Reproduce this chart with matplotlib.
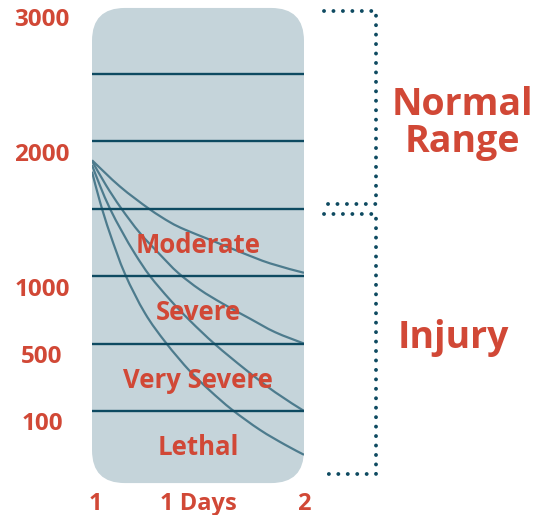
import matplotlib
matplotlib.use("Agg")
import matplotlib.pyplot as plt
from matplotlib.patches import FancyBboxPatch, PathPatch
from matplotlib.path import Path
from matplotlib.transforms import ScaledTranslation, blended_transform_factory

# y runs on a band scale: 0 = bottom of the panel, 7 = top
level_ticks = [7, 5, 3, 2, 1]
level_labels = ["3000", "2000", "1000", "500", "100"]
grid_levels = [1, 2, 3, 4, 5, 6]

day_ticks = [1, 1.5, 2]
day_labels = ["1", "1 Days", "2"]

bands = ["Moderate", "Severe", "Very Severe", "Lethal"]
band_levels = [3.5, 2.5, 1.5, 0.5]

# decay curves (day, level)
curve_moderate_x = [1.0, 1.132, 1.269, 1.368, 1.439, 1.557, 1.698, 1.840, 2.0]
curve_moderate_y = [4.72, 4.33, 4.00, 3.80, 3.69, 3.54, 3.36, 3.19, 3.05]

curve_severe_x = [1.0, 1.066, 1.137, 1.226, 1.321, 1.406, 1.509, 1.618, 1.745, 1.863, 2.0]
curve_severe_y = [4.71, 4.35, 4.01, 3.64, 3.32, 3.05, 2.80, 2.59, 2.37, 2.17, 2.0]

curve_vsevere_x = [1.0, 1.038, 1.085, 1.142, 1.203, 1.274, 1.368, 1.462, 1.580, 1.722, 1.863, 2.0]
curve_vsevere_y = [4.65, 4.34, 4.00, 3.66, 3.33, 3.00, 2.65, 2.34, 1.99, 1.62, 1.28, 1.00]

curve_lethal_x = [1.0, 1.038, 1.085, 1.156, 1.25, 1.349, 1.462, 1.557, 1.660, 1.792, 1.910, 2.0]
curve_lethal_y = [4.55, 4.10, 3.63, 3.03, 2.45, 2.01, 1.59, 1.30, 1.02, 0.72, 0.50, 0.35]

normal_range = (4, 7)
injury_range = (0, 4)

RED = "#d14836"
DARK = "#0e4a61"
CURVE = "#4d7b8d"
PANEL = "#c5d4da"

plt.rcParams["font.family"] = ["Open Sans", "DejaVu Sans"]
plt.rcParams["font.weight"] = "bold"


def smooth_path(xs, ys):
    # catmull-rom through the read points, as cubic bezier segments
    pts = list(zip(xs, ys))
    verts = [pts[0]]
    codes = [Path.MOVETO]
    n = len(pts)
    for i in range(n - 1):
        p0 = pts[max(i - 1, 0)]
        p1 = pts[i]
        p2 = pts[i + 1]
        p3 = pts[min(i + 2, n - 1)]
        c1 = (p1[0] + (p2[0] - p0[0]) / 6, p1[1] + (p2[1] - p0[1]) / 6)
        c2 = (p2[0] - (p3[0] - p1[0]) / 6, p2[1] - (p3[1] - p1[1]) / 6)
        verts += [c1, c2, p2]
        codes += [Path.CURVE4] * 3
    return Path(verts, codes)


def main():
    fig = plt.figure(figsize=(5.33, 5.15), dpi=100)
    ax = fig.add_axes([92 / 533, (515 - 485.1) / 515, 212 / 533, 478.5 / 515])
    ax.set_xlim(1, 2)
    ax.set_ylim(-0.1, 7.0)

    # rounded panel (aspect fix so the corners stay round)
    panel = FancyBboxPatch((1, -0.07), 1, 7.05,
                           boxstyle="round,pad=0,rounding_size=0.155",
                           mutation_aspect=212 / 67.4,
                           fc=PANEL, ec="none", zorder=1, clip_on=False)
    ax.add_patch(panel)

    for lv in grid_levels:
        ax.plot([1, 2], [lv, lv], color=DARK, lw=1.7, zorder=3,
                solid_capstyle="butt")

    curves = [(curve_moderate_x, curve_moderate_y),
              (curve_severe_x, curve_severe_y),
              (curve_vsevere_x, curve_vsevere_y),
              (curve_lethal_x, curve_lethal_y)]
    for cx, cy in curves:
        ax.add_patch(PathPatch(smooth_path(cx, cy), fc="none", ec=CURVE,
                               lw=1.6, zorder=2))

    for name, lv in zip(bands, band_levels):
        ax.text(1.5, lv, name, ha="center", va="center_baseline",
                color=RED, fontsize=18.5, fontweight="bold", zorder=4)

    # ticks
    ax.set_yticks(level_ticks, level_labels)
    ax.set_xticks(day_ticks, day_labels)
    ax.tick_params(axis="y", length=0, pad=36, labelsize=17.5, labelcolor=RED)
    ax.tick_params(axis="x", length=0, pad=5, labelsize=17, labelcolor=RED)
    down = ScaledTranslation(0, -0.105, fig.dpi_scale_trans)
    for lab in ax.get_yticklabels():
        lab.set_ha("center")
        lab.set_fontweight("bold")
        lab.set_transform(lab.get_transform() + down)
    xl = ax.get_xticklabels()
    for lab in xl:
        lab.set_fontweight("bold")
    xl[0].set_transform(xl[0].get_transform() +
                        ScaledTranslation(0.035, 0, fig.dpi_scale_trans))

    for s in ax.spines.values():
        s.set_visible(False)

    # dotted brackets on the right
    trans = blended_transform_factory(ax.transAxes, ax.transData)
    bx0, bx1 = 1.094, 1.338
    inset = 0.07
    for lo, hi in [normal_range, injury_range]:
        top = hi - inset
        bot = lo + inset
        ax.plot([bx0, bx1, bx1, bx0], [top, top, bot, bot], transform=trans,
                color=DARK, lw=2.8, linestyle=(0, (0.01, 2.42)),
                dash_capstyle="round", clip_on=False)

    ax.text(1.745, 5.39, "Normal", transform=trans, ha="center",
            va="baseline", fontsize=27, color=RED, fontweight="bold")
    ax.text(1.745, 4.84, "Range", transform=trans, ha="center",
            va="baseline", fontsize=27, color=RED, fontweight="bold")
    ax.text(1.705, 1.935, "Injury", transform=trans, ha="center",
            va="baseline", fontsize=27, color=RED, fontweight="bold")

    fig.savefig("out.png", dpi=100)


if __name__ == "__main__":
    main()
